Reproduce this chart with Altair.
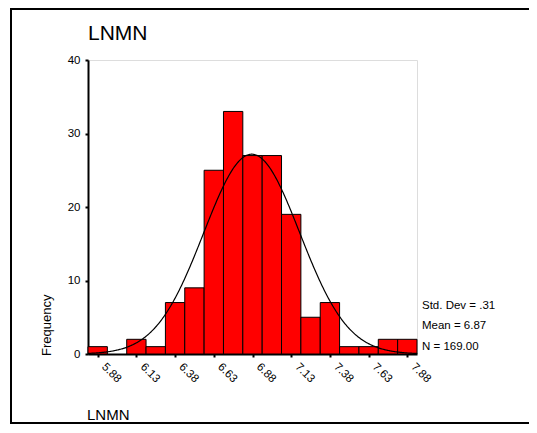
import json
import altair as alt
import pandas as pd

# ---- data ----
bin_centers = [5.875, 6.0, 6.125, 6.25, 6.375, 6.5, 6.625, 6.75, 6.875,
               7.0, 7.125, 7.25, 7.375, 7.5, 7.625, 7.75, 7.875]
counts = [1, 0, 2, 1, 7, 9, 25, 33, 27, 27, 19, 5, 7, 1, 1, 2, 2]
tick_labels = ["5.88", "6.13", "6.38", "6.63", "6.88", "7.13", "7.38", "7.63", "7.88"]
y_ticks = [0, 10, 20, 30, 40]
BIN_W = 0.125
MEAN = 6.87
SD = 0.31
N = 169
stats_lines = ["Std. Dev = .31", "Mean = 6.87", "N = 169.00"]
title_text = "LNMN"
x_title = "LNMN"
y_title = "Frequency"

FONT = "Liberation Sans"
W, H = 329, 294
X_DOM = [bin_centers[0] - BIN_W / 2, bin_centers[-1] + BIN_W / 2]

bars_df = pd.DataFrame({
    "center": bin_centers,
    "start": [c - BIN_W / 2 for c in bin_centers],
    "end": [c + BIN_W / 2 for c in bin_centers],
    "count": counts,
})
bars_df = bars_df[bars_df["count"] > 0]

x_scale = alt.Scale(domain=X_DOM, nice=False, zero=False)
y_scale = alt.Scale(domain=[0, 40], nice=False)

label_expr = (
    "indexof(" + json.dumps(tick_labels) + ", format(datum.value, '.2f')) >= 0 ? "
    "format(datum.value, '.2f') : ''"
)

bars = alt.Chart(bars_df).mark_bar(
    color="#ff0000", stroke="black", strokeWidth=1
).encode(
    x=alt.X("start:Q", scale=x_scale, axis=alt.Axis(
        values=bin_centers, labelExpr=label_expr, title=None, grid=False,
        labelAngle=45, labelAlign="left", labelBaseline="alphabetic",
        labelOffset=3, labelPadding=10, labelFontSize=11.5, labelColor="black",
        tickSize=3, tickWidth=2, tickColor="black",
        domainColor="black", domainWidth=2, labelFont=FONT,
    )),
    x2="end:Q",
    y=alt.Y("count:Q", scale=y_scale, axis=alt.Axis(
        values=y_ticks, title=None, grid=False, labelFontSize=11.5,
        labelColor="black", labelPadding=5, tickSize=3, tickWidth=2,
        tickColor="black", domainColor="black", domainWidth=2, labelFont=FONT,
    )),
    y2=alt.datum(0),
)

curve = alt.Chart(alt.sequence(X_DOM[0], X_DOM[1] + 0.001, 0.005, as_="x")).transform_calculate(
    y=f"{N}*{BIN_W}/({SD}*sqrt(2*PI))*exp(-0.5*pow((datum.x-{MEAN})/{SD},2))"
).mark_line(color="black", strokeWidth=1.2).encode(
    x=alt.X("x:Q", scale=x_scale),
    y=alt.Y("y:Q", scale=y_scale),
)


def text_layer(txt, x, y, size, **kw):
    return alt.Chart(pd.DataFrame({"t": [txt]})).mark_text(
        font=FONT, fontSize=size, color="black", align="left",
        baseline="alphabetic", **kw
    ).encode(x=alt.value(x), y=alt.value(y), text="t:N")


frame = alt.Chart(pd.DataFrame({"a": [0]})).mark_rect(
    fillOpacity=0, stroke="black", strokeWidth=2
).encode(x=alt.value(-77), x2=alt.value(700), y=alt.value(-51), y2=alt.value(363))

layers = [
    frame,
    bars,
    curve,
    text_layer(title_text, 0, -20, 21),
    text_layer(x_title, -1, 360, 15),
    text_layer(y_title, -37, 296, 13, angle=270),
    text_layer(stats_lines[0], 334, 248.5, 11.5),
    text_layer(stats_lines[1], 334, 268.5, 11.5),
    text_layer(stats_lines[2], 334, 290, 11.5),
]

chart = alt.layer(*layers).properties(
    width=W, height=H,
    autosize=alt.AutoSizeParams(type="none"),
    padding={"left": 80, "top": 52, "right": 112, "bottom": 71},
).configure_view(
    stroke="#808080", strokeWidth=2
).configure(font=FONT)

chart.save("out.html", embed_options={"renderer": "svg", "actions": False})
